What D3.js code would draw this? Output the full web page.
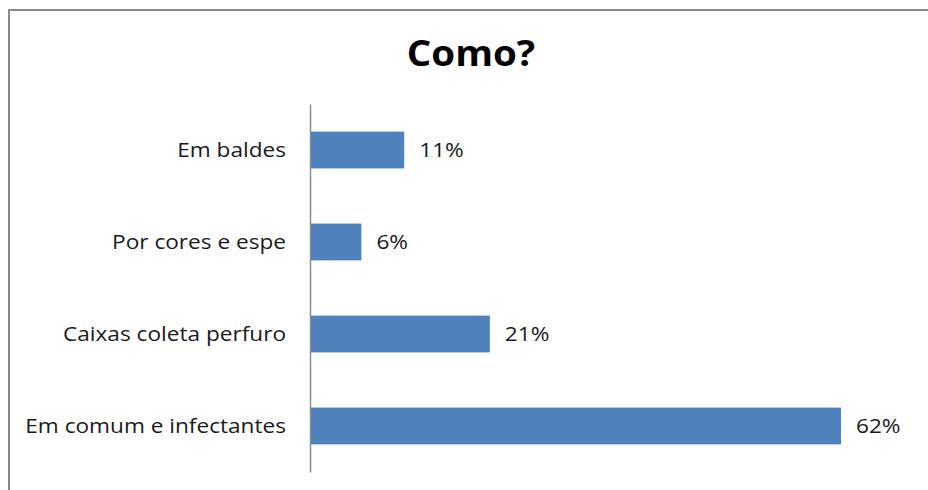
<!DOCTYPE html>
<html>
<head>
<meta charset="utf-8">
<script src="https://d3js.org/d3.v7.min.js"></script>
<style>
  html, body { margin: 0; padding: 0; background: #fff; overflow: hidden; }
  svg { display: block; }
</style>
</head>
<body>
<svg id="chart" width="928" height="490"></svg>
<script>
// Categories (top to bottom) and their shares in percent
const categories = ["Em baldes", "Por cores e espe", "Caixas coleta perfuro", "Em comum e infectantes"];
const values = [11, 6, 21, 62];
const valueLabels = ["11%", "6%", "21%", "62%"];
const chartTitle = "Como?";

const width = 928, height = 490;
const plot = { left: 310, right: 909.5, top: 104, bottom: 472 };
const fontFamily = "'Open Sans', 'Noto Sans', sans-serif";
const labelSize = 19.5;
const stretch = 1.16;   // wide set labels

const svg = d3.select("#chart");

// White page background
svg.append("rect").attr("width", width).attr("height", height).attr("fill", "#fff");

// Outer chart frame: only its top and left edges fall inside the view
const frame = svg.append("g").attr("stroke", "#888888").attr("stroke-width", 2);
frame.append("line").attr("x1", 9).attr("x2", width + 10).attr("y1", 10).attr("y2", 10);
frame.append("line").attr("x1", 9).attr("x2", 9).attr("y1", 9).attr("y2", height + 10);

// Title
svg.append("g")
  .attr("transform", "translate(471,66) scale(1.07,1)")
  .append("text")
  .attr("text-anchor", "middle")
  .attr("font-family", fontFamily)
  .attr("font-weight", 700)
  .attr("font-size", 36)
  .attr("fill", "#000")
  .text(chartTitle);

const x = d3.scaleLinear().domain([0, 70]).range([plot.left, plot.right]);
const y = d3.scaleBand().domain(categories).range([plot.top, plot.bottom]).paddingInner(0.6).paddingOuter(0.3);

// Bars
svg.append("g").selectAll("rect")
  .data(categories)
  .join("rect")
  .attr("x", x(0))
  .attr("y", d => y(d))
  .attr("width", (d, i) => x(values[i]) - x(0))
  .attr("height", y.bandwidth())
  .attr("fill", "#4F81BD");

// Category axis line (no ticks)
const yAxis = d3.axisLeft(y).tickSize(0).tickFormat("");
const gy = svg.append("g")
  .attr("transform", `translate(${plot.left},0)`)
  .call(yAxis);
gy.select(".domain").attr("stroke", "#8c8c8c").attr("stroke-width", 1.5);

// Category labels, right aligned beside the axis
svg.append("g").selectAll("g")
  .data(categories)
  .join("g")
  .attr("transform", d => `translate(${plot.left - 24},${y(d) + y.bandwidth() / 2}) scale(${stretch},1)`)
  .append("text")
  .attr("text-anchor", "end")
  .attr("dy", "0.36em")
  .attr("font-family", fontFamily)
  .attr("font-size", labelSize)
  .attr("fill", "#1a1a1a")
  .text(d => d);

// Value labels at the bar ends
svg.append("g").selectAll("g")
  .data(categories)
  .join("g")
  .attr("transform", (d, i) => `translate(${x(values[i]) + 15},${y(d) + y.bandwidth() / 2}) scale(${stretch},1)`)
  .append("text")
  .attr("dy", "0.36em")
  .attr("font-family", fontFamily)
  .attr("font-size", labelSize)
  .attr("fill", "#1a1a1a")
  .text((d, i) => valueLabels[i]);
</script>
</body>
</html>
